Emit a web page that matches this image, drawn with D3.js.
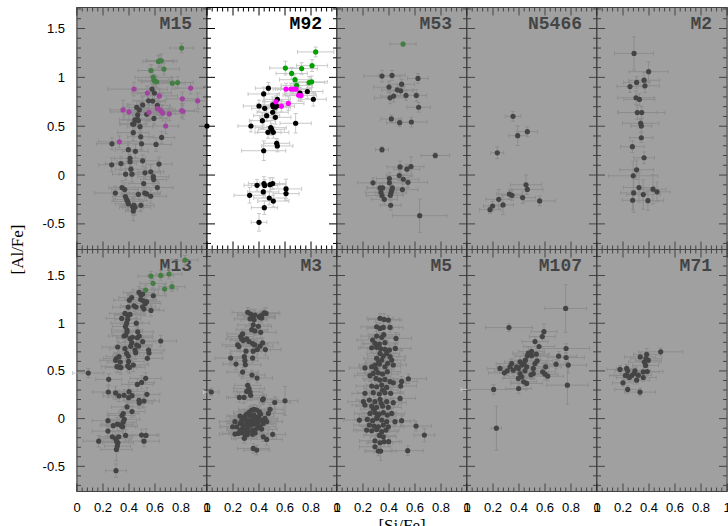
<!DOCTYPE html>
<html>
<head>
<meta charset="utf-8">
<script src="https://cdn.jsdelivr.net/npm/d3@7"></script>
<style>
  html, body { margin: 0; padding: 0; background: #fff; }
  svg { display: block; }
  .tick-label { font-family: "Liberation Sans", Arial, sans-serif; font-size: 13px; fill: #000; }
  .axis-title { font-family: "Liberation Serif", "Times New Roman", serif; font-size: 17px; fill: #000; }
  .panel-title { font-family: "Liberation Mono", "Courier New", monospace; font-weight: bold; font-size: 18px; fill: #000; }
</style>
</head>
<body>
<div id="chart"></div>
<script>
// [Si/Fe] vs [Al/Fe] for ten globular clusters, one panel each.
// every point is [x, y, xerr, yerr]

const m15Black = [[.577,.879,.12,.06],[.595,.84,.13,.07],[.551,.76,.12,.07],[.582,.757,.1,.06],[.618,.713,.1,.07],[.505,.718,.12,.08],[.459,.693,.1,.07],[.479,.667,.12,.08],[.467,.616,.1,.1],[.536,.622,.1,.07],[.592,.58,.1,.06],[.446,.564,.12,.1],[.464,.571,.1,.08],[.472,.557,.08,.06],[.428,.522,.1,.12],[.438,.522,.1,.08],[.485,.495,.1,.07],[.433,.434,.12,.08],[.49,.392,.1,.06],[.651,.385,.1,.06],[.269,.32,.12,.06],[.395,.26,.1,.08],[.497,.32,.1,.06],[.608,.313,.12,.07],[.449,.243,.1,.07],[.408,.171,.12,.08],[.408,.137,.1,.07],[.505,.146,.12,.06],[.267,.105,.1,.07],[.338,.118,.12,.07],[.631,.112,.1,.07],[.415,.06,.12,.07],[.423,.009,.1,.08],[.374,.009,.1,.06],[.523,.023,.12,.06],[.567,.034,.1,.07],[.587,-.017,.12,.06],[.59,-.046,.1,.06],[.513,-.087,.12,.07],[.618,-.128,.12,.07],[.346,-.128,.1,.07],[.367,-.149,.1,.07],[.295,-.184,.16,.07],[.521,-.184,.12,.08],[.472,-.197,.12,.07],[.536,-.193,.1,.07],[.372,-.22,.1,.08],[.382,-.25,.1,.07],[.39,-.27,.12,.08],[.395,-.295,.1,.07],[.438,-.31,.1,.08],[.446,-.33,.12,.08],[.428,-.32,.08,.08],[.492,-.31,.1,.06],[.567,-.217,.12,.07],[.433,-.368,.06,.1],[.433,-.334,.08,.08]];
const m15Green = [[.805,1.30,.09,.05],[.626,1.163,.12,.06],[.638,1.17,.1,.06],[.649,1.17,.12,.07],[.569,1.07,.1,.06],[.669,1.085,.12,.06],[.587,1.0,.14,.07],[.592,.97,.12,.06],[.6,.96,.1,.06],[.613,.955,.12,.06],[.733,.94,.1,.06],[.774,.947,.12,.06]];
const m15Magenta = [[.438,.88,.2,.07],[.541,.84,.12,.07],[.633,.81,.14,.07],[.874,.89,.12,.06],[.81,.78,.12,.07],[.928,.76,.12,.08],[.354,.667,.1,.1],[.4,.646,.14,.08],[.554,.642,.14,.08],[.618,.68,.12,.07],[.638,.667,.12,.08],[.651,.65,.14,.07],[.659,.633,.1,.08],[.71,.626,.12,.07],[.805,.66,.1,.07],[.815,.653,.12,.08],[.682,.502,.1,.08],[.326,.34,.16,.06]];

const m92Black = [[.472,.889,.1,.06],[.436,.83,.12,.07],[.541,.775,.1,.06],[.715,.838,.12,.06],[.772,.855,.12,.07],[.818,.776,.1,.07],[.4,.707,.12,.06],[.444,.683,.1,.07],[.505,.718,.12,.08],[.51,.7,.1,.07],[.523,.694,.12,.06],[.536,.707,.1,.08],[.505,.643,.12,.07],[.459,.608,.1,.06],[.526,.591,.12,.07],[.426,.557,.1,.08],[.338,.502,.1,.06],[.49,.485,.12,.07],[.497,.468,.1,.06],[.682,.53,.12,.1],[.469,.437,.1,.06],[.51,.437,.12,.06],[.536,.325,.1,.05],[.541,.298,.12,.06],[.436,.249,.17,.1],[.385,-.105,.1,.06],[.438,-.087,.12,.07],[.444,-.107,.1,.06],[.485,-.098,.12,.07],[.505,-.087,.1,.06],[.433,-.173,.12,.06],[.328,-.207,.12,.08],[.479,-.235,.12,.07],[.51,-.266,.12,.06],[.608,-.142,.12,.1],[.608,-.19,.1,.07],[.441,-.334,.1,.07],[.4,-.484,.06,.09],[0,.502,0,0]];
const m92Green = [[.836,1.26,.14,.05],[.603,1.095,.12,.07],[.651,1.04,.12,.06],[.728,1.09,.12,.06],[.808,1.12,.12,.06],[.677,.976,.12,.06],[.69,.918,.12,.06],[.785,.947,.12,.06],[.805,.954,.12,.06]];
const m92Magenta = [[.608,.88,.1,.06],[.646,.88,.12,.06],[.664,.88,.12,.06],[.685,.88,.12,.06],[.705,.817,.12,.06],[.723,.814,.12,.06],[.531,.75,.1,.06],[.626,.733,.12,.07],[.572,.705,.1,.06]];

const m53Black = [[.346,1.013,.14,.06],[.423,1.02,.1,.05],[.623,.989,.08,.05],[.497,.93,.1,.05],[.4,.9,.12,.06],[.464,.872,.12,.06],[.49,.862,.1,.05],[.531,.815,.1,.05],[.61,.815,.08,.06],[.408,.79,.12,.06],[.436,.808,.1,.06],[.628,.694,.09,.05],[.418,.574,.08,.04],[.482,.536,.1,.04],[.572,.543,.12,.05],[.346,.26,.05,.03],[.756,.2,.11,.03],[.485,.083,.1,.06],[.569,.087,.1,.1],[.538,.06,.1,.05],[.479,-.005,.1,.05],[.403,-.036,.1,.06],[.51,-.043,.12,.05],[.546,-.074,.15,.05],[.277,-.08,.12,.05],[.403,-.08,.1,.06],[.331,-.132,.1,.05],[.351,-.132,.12,.06],[.426,-.132,.12,.06],[.421,-.156,.1,.05],[.415,-.183,.12,.05],[.41,-.207,.1,.05],[.338,-.176,.12,.05],[.346,-.21,.12,.05],[.364,-.248,.1,.05],[.503,-.149,.12,.06],[.413,-.309,.08,.05],[.636,-.416,.21,.17]];
const m53Green = [[.508,1.341,.1,.02]];

const n5466Black = [[.354,.601,.06,.05],[.39,.403,.07,.1],[.464,.444,.08,.05],[.233,.228,.05,.06],[.454,-.099,.12,.1],[.464,-.147,.12,.05],[.326,-.195,.1,.05],[.346,-.208,.08,.05],[.428,-.231,.1,.06],[.559,-.265,.12,.05],[.244,-.248,.1,.1],[.277,-.306,.08,.1],[.197,-.317,.07,.05],[.177,-.354,.08,.04]];

const m2Black = [[.285,1.245,.15,.17],[.397,1.058,.15,.1],[.305,.948,.1,.06],[.362,.971,.12,.08],[.369,.913,.11,.07],[.254,.906,.1,.06],[.3,.791,.14,.07],[.326,.774,.12,.06],[.31,.64,.15,.07],[.344,.64,.18,.06],[.336,.53,.14,.05],[.341,.503,.08,.06],[.341,.382,.09,.05],[.272,.29,.09,.06],[.362,.177,.08,.06],[.305,.054,.13,.1],[.279,-.008,.19,.15],[.323,-.128,.12,.15],[.431,-.145,.1,.15],[.462,-.172,.1,.1],[.282,-.183,.1,.2],[.356,-.2,.13,.15],[.274,-.258,.08,.1],[.392,-.262,.12,.1]];

const m13Black = [[.477,1.323,.12,.06],[.492,1.295,.1,.07],[.505,1.306,.12,.06],[.587,1.288,.1,.06],[.403,1.242,.12,.07],[.421,1.27,.1,.06],[.49,1.249,.12,.06],[.51,1.235,.1,.07],[.526,1.207,.12,.06],[.536,1.224,.1,.06],[.394,1.169,.12,.07],[.438,1.183,.1,.06],[.454,1.169,.12,.06],[.505,1.172,.1,.06],[.515,1.148,.12,.07],[.569,1.134,.1,.06],[.369,1.103,.12,.07],[.39,1.085,.1,.06],[.408,1.092,.12,.06],[.344,1.05,.12,.06],[.39,1.043,.1,.07],[.382,1.001,.12,.06],[.372,.966,.1,.07],[.385,.928,.12,.06],[.456,1.001,.1,.06],[.385,.907,.12,.07],[.374,.873,.1,.06],[.467,.91,.12,.06],[.479,.866,.1,.07],[.464,.848,.12,.06],[.408,.838,.1,.06],[.426,.852,.12,.07],[.362,.866,.12,.06],[.421,.796,.1,.06],[.413,.758,.12,.07],[.505,.807,.1,.06],[.644,.814,.12,.06],[.459,.772,.12,.06],[.474,.761,.1,.07],[.313,.751,.12,.06],[.446,.719,.1,.06],[.369,.733,.12,.07],[.382,.684,.1,.06],[.551,.719,.12,.06],[.554,.688,.1,.07],[.541,.632,.12,.06],[.303,.629,.1,.06],[.297,.611,.12,.07],[.323,.649,.1,.06],[.395,.656,.12,.06],[.451,.691,.1,.07],[.397,.6,.12,.06],[.333,.593,.1,.06],[.433,.562,.12,.07],[.308,.545,.12,.06],[.321,.541,.1,.06],[.338,.535,.12,.07],[.39,.552,.1,.06],[.403,.535,.12,.06],[.087,.478,.12,.05],[.244,.412,.1,.06],[.528,.422,.12,.06],[.497,.38,.1,.07],[.464,.359,.12,.06],[.241,.279,.12,.06],[.297,.269,.1,.07],[.323,.238,.12,.06],[.362,.245,.1,.06],[.4,.283,.12,.07],[.423,.241,.1,.06],[.397,.22,.12,.06],[.538,.255,.1,.07],[.477,.192,.12,.06],[.479,.164,.1,.06],[.515,.185,.12,.07],[.385,.123,.12,.06],[.423,.074,.1,.06],[.356,.053,.12,.07],[.346,.033,.1,.06],[.364,-.007,.12,.06],[.356,-.036,.1,.07],[.238,-.022,.12,.06],[.279,-.074,.1,.06],[.31,-.057,.12,.07],[.331,-.064,.1,.06],[.344,-.078,.12,.06],[.351,-.085,.1,.07],[.238,-.131,.12,.06],[.272,-.19,.1,.06],[.297,-.211,.12,.07],[.321,-.19,.1,.06],[.374,-.176,.12,.06],[.305,-.239,.1,.07],[.315,-.253,.12,.06],[.31,-.288,.1,.06],[.303,-.323,.12,.12],[.167,-.236,.12,.06],[.497,-.172,.12,.06],[.531,-.176,.1,.07],[.515,-.236,.12,.06],[.3,-.546,.08,.07]];
const m13Green = [[.831,1.662,.1,.05],[.569,1.494,.1,.05],[.644,1.501,.1,.05],[.708,1.515,.1,.05],[.585,1.418,.1,.05],[.731,1.383,.1,.05],[.528,1.348,.1,.05],[.674,1.358,.1,.05]];

const m3Black = [[.313,1.114,.12,.05],[.336,1.096,.1,.05],[.356,1.079,.12,.05],[.369,1.086,.1,.06],[.403,1.069,.12,.05],[.421,1.086,.1,.05],[.441,1.11,.12,.05],[.454,1.103,.1,.06],[.331,1.046,.12,.05],[.362,1.036,.1,.05],[.408,1.064,.12,.05],[.421,1.054,.1,.05],[.356,.982,.12,.06],[.395,.968,.1,.05],[.344,.933,.12,.05],[.369,.919,.1,.05],[.413,.905,.12,.06],[.274,.888,.12,.05],[.259,.86,.1,.05],[.267,.836,.12,.05],[.279,.818,.1,.06],[.305,.836,.12,.05],[.323,.808,.1,.05],[.351,.787,.12,.05],[.367,.773,.1,.06],[.236,.773,.12,.05],[.246,.756,.1,.05],[.428,.794,.12,.05],[.387,.724,.1,.05],[.449,.724,.12,.06],[.408,.759,.1,.05],[.3,.707,.12,.05],[.356,.707,.1,.05],[.182,.635,.12,.05],[.287,.649,.1,.06],[.351,.635,.12,.05],[.292,.607,.1,.05],[.295,.565,.12,.05],[.223,.572,.1,.06],[.274,.488,.12,.05],[.346,.457,.1,.05],[.385,.425,.12,.05],[.313,.349,.1,.05],[.323,.314,.12,.06],[.331,.279,.1,.05],[.336,.244,.12,.05],[.305,.285,.1,.05],[.285,.222,.12,.06],[.249,.222,.1,.05],[.033,.279,.06,.04],[.428,.197,.12,.05],[.433,.207,.1,.05],[.521,.169,.12,.06],[.6,.187,.1,.15],[.228,-.085,.12,.05],[.254,-.05,.1,.05],[.267,-.022,.12,.06],[.279,.002,.1,.05],[.292,.027,.12,.05],[.305,.048,.1,.05],[.326,.069,.12,.06],[.344,.09,.1,.05],[.362,.097,.12,.05],[.382,.09,.1,.05],[.403,.072,.12,.06],[.413,.048,.1,.05],[.395,.02,.12,.05],[.377,.002,.1,.05],[.356,-.008,.12,.06],[.331,-.022,.1,.05],[.31,-.043,.12,.05],[.292,-.067,.1,.05],[.274,-.102,.12,.06],[.254,-.12,.1,.05],[.318,-.085,.12,.05],[.344,-.067,.1,.05],[.369,-.05,.12,.06],[.395,-.032,.1,.05],[.421,-.015,.12,.05],[.446,.002,.1,.05],[.472,.055,.12,.06],[.485,.097,.1,.05],[.241,-.155,.12,.05],[.267,-.148,.1,.05],[.292,-.162,.12,.06],[.318,-.137,.1,.05],[.351,-.12,.12,.05],[.382,-.102,.1,.05],[.408,-.085,.12,.06],[.433,-.05,.1,.05],[.459,-.032,.12,.05],[.197,-.085,.1,.05],[.215,-.162,.12,.06],[.287,-.207,.1,.05],[.351,-.165,.12,.05],[.433,-.19,.1,.05],[.459,-.218,.12,.06],[.505,-.165,.1,.05],[.356,-.312,.12,.05],[.382,-.33,.1,.05],[.215,-.032,.12,.05],[.254,.027,.1,.05],[.3,-.01,.1,.05],[.33,.03,.12,.05],[.36,.04,.1,.05],[.3,-.12,.12,.05],[.34,-.04,.1,.05],[.39,-.06,.12,.05],[.27,-.05,.1,.05],[.42,-.11,.12,.05],[.37,-.15,.1,.05],[.31,-.17,.12,.05]];

const m5Black = [[.331,1.051,.1,.05],[.362,1.04,.12,.06],[.395,1.033,.1,.05],[.305,.963,.12,.05],[.331,.946,.1,.05],[.356,.956,.12,.06],[.408,.956,.1,.05],[.305,.865,.12,.05],[.344,.852,.1,.05],[.274,.824,.12,.06],[.292,.789,.1,.05],[.326,.782,.12,.05],[.369,.796,.1,.05],[.454,.841,.12,.06],[.267,.743,.1,.05],[.305,.747,.12,.05],[.336,.733,.1,.05],[.369,.726,.12,.06],[.403,.719,.1,.05],[.449,.736,.12,.05],[.331,.684,.1,.05],[.356,.656,.12,.06],[.382,.684,.1,.05],[.408,.649,.12,.05],[.305,.632,.1,.05],[.344,.614,.12,.06],[.421,.614,.1,.05],[.215,.531,.12,.05],[.267,.544,.1,.05],[.292,.562,.12,.06],[.326,.572,.1,.05],[.369,.544,.12,.05],[.433,.562,.1,.05],[.279,.474,.12,.06],[.318,.481,.1,.05],[.351,.467,.12,.05],[.387,.492,.1,.05],[.254,.45,.12,.06],[.3,.421,.1,.05],[.331,.404,.12,.05],[.369,.411,.1,.05],[.408,.387,.12,.06],[.433,.376,.1,.05],[.497,.39,.12,.05],[.549,.418,.14,.05],[.267,.341,.12,.06],[.305,.334,.1,.05],[.344,.352,.12,.05],[.382,.327,.1,.05],[.49,.341,.12,.06],[.215,.265,.1,.05],[.279,.272,.12,.05],[.326,.258,.1,.05],[.369,.272,.12,.06],[.413,.265,.1,.05],[.203,.178,.12,.05],[.249,.195,.1,.05],[.292,.178,.12,.06],[.331,.202,.1,.05],[.382,.178,.12,.05],[.433,.167,.1,.05],[.485,.212,.12,.06],[.215,.143,.1,.05],[.267,.132,.12,.05],[.305,.118,.1,.05],[.351,.132,.12,.06],[.395,.118,.1,.05],[.254,.055,.12,.05],[.292,.065,.1,.05],[.326,.048,.12,.06],[.356,.062,.1,.05],[.387,.037,.12,.05],[.421,.055,.1,.05],[.172,-.015,.12,.06],[.233,-.008,.1,.05],[.274,-.022,.12,.05],[.305,.002,.1,.05],[.344,-.015,.12,.06],[.382,-.032,.1,.05],[.446,-.032,.12,.05],[.497,-.022,.1,.05],[.249,-.067,.12,.06],[.285,-.078,.1,.05],[.318,-.085,.12,.05],[.356,-.067,.1,.05],[.395,-.085,.12,.06],[.228,-.12,.1,.05],[.267,-.127,.12,.05],[.305,-.113,.1,.05],[.344,-.137,.12,.06],[.377,-.12,.1,.05],[.608,-.078,.12,.05],[.672,-.172,.08,.07],[.326,-.176,.12,.05],[.356,-.19,.1,.05],[.292,-.232,.12,.06],[.331,-.253,.1,.05],[.362,-.242,.12,.05],[.397,-.242,.1,.05],[.292,-.295,.12,.06],[.318,-.34,.1,.05],[.336,-.34,.12,.1],[.544,-.336,.12,.05],[.32,.59,.1,.05],[.35,.3,.12,.05],[.28,.1,.1,.05],[.36,.88,.12,.05],[.34,.16,.1,.05],[.3,.52,.12,.05],[.39,.58,.1,.05],[.31,.02,.12,.05]];

const m107Black = [[.759,1.155,.16,.25],[.323,.954,.18,.04],[.592,.912,.1,.08],[.579,.86,.1,.05],[.523,.808,.1,.05],[.554,.756,.12,.05],[.497,.704,.1,.05],[.472,.686,.12,.06],[.464,.658,.1,.05],[.497,.658,.12,.05],[.533,.676,.1,.06],[.449,.613,.12,.05],[.438,.578,.1,.05],[.408,.596,.12,.06],[.421,.561,.1,.05],[.395,.526,.12,.05],[.382,.543,.1,.06],[.344,.578,.12,.05],[.331,.543,.1,.05],[.356,.508,.12,.06],[.31,.501,.1,.05],[.287,.48,.12,.05],[.254,.526,.1,.05],[.459,.543,.12,.06],[.446,.501,.1,.05],[.408,.473,.12,.05],[.421,.438,.1,.06],[.395,.421,.12,.05],[.436,.386,.1,.05],[.459,.369,.12,.06],[.397,.316,.1,.05],[.51,.526,.12,.05],[.523,.578,.1,.06],[.54,.606,.12,.05],[.492,.459,.1,.05],[.51,.473,.12,.06],[.582,.491,.1,.05],[.605,.543,.12,.05],[.6,.466,.1,.06],[.621,.445,.12,.05],[.685,.571,.1,.05],[.705,.655,.14,.05],[.762,.735,.18,.05],[.762,.641,.14,.05],[.779,.561,.14,.08],[.772,.351,.16,.2],[.205,.306,.25,.05],[.226,-.1,.04,.23]];

const m71Black = [[.49,.7,.17,.04],[.333,.647,.12,.05],[.382,.674,.1,.06],[.377,.628,.12,.05],[.395,.611,.1,.05],[.364,.593,.12,.05],[.374,.558,.1,.05],[.177,.516,.1,.04],[.228,.526,.08,.04],[.236,.501,.1,.04],[.292,.501,.12,.04],[.285,.473,.1,.04],[.267,.452,.12,.04],[.228,.455,.1,.04],[.249,.431,.1,.04],[.218,.452,.12,.04],[.356,.49,.12,.04],[.387,.494,.12,.04],[.318,.455,.1,.04],[.356,.431,.1,.04],[.305,.403,.1,.04],[.2,.375,.08,.04],[.236,.306,.1,.04],[.331,.278,.12,.04]];

const panelNames = ['M15', 'M92', 'M53', 'N5466', 'M2', 'M13', 'M3', 'M5', 'M107', 'M71'];
const panelBlack = [m15Black, m92Black, m53Black, n5466Black, m2Black, m13Black, m3Black, m5Black, m107Black, m71Black];
const panelGreen = [m15Green, m92Green, m53Green, [], [], m13Green, [], [], [], []];
const panelMagenta = [m15Magenta, m92Magenta, [], [], [], [], [], [], [], []];
const whitePanels = ['M92'];

const xTickLabels = ['0', '0.2', '0.4', '0.6', '0.8', '1'];
const yTickLabels = ['1.5', '1', '0.5', '0', '-0.5'];

const W = 728, H = 526;
const LEFT = 77, PW = 130, PH = 242;
const ROW_TOP = [7.5, 249.5];
// the two rows come out with slightly different y ranges in the source figure
const Y_DOMAINS = [[-0.762, 1.715], [-0.764, 1.773]];

const svg = d3.select('#chart').append('svg')
  .attr('width', W).attr('height', H);

const x = d3.scaleLinear().domain([0, 1]).range([0, PW]);

panelNames.forEach((name, i) => {
  const row = Math.floor(i / 5), col = i % 5;
  const y = d3.scaleLinear().domain(Y_DOMAINS[row]).range([PH, 0]);
  const g = svg.append('g')
    .attr('transform', `translate(${LEFT + col * PW},${ROW_TOP[row]})`);

  g.append('rect').attr('width', PW).attr('height', PH).attr('fill', '#fff');

  g.append('text').attr('class', 'panel-title')
    .attr('x', PW - 15).attr('y', 21).attr('text-anchor', 'end')
    .text(name);

  // inward ticks on all four sides
  const ticks = g.append('g').attr('stroke', '#000').attr('stroke-width', 1);
  d3.range(0, 26).forEach(k => {
    const v = k * 0.04, major = k % 5 === 0, len = major ? 8 : 4;
    const px = x(v);
    ticks.append('line').attr('x1', px).attr('x2', px).attr('y1', PH).attr('y2', PH - len);
    ticks.append('line').attr('x1', px).attr('x2', px).attr('y1', 0).attr('y2', len);
  });
  d3.range(-7, 18).forEach(k => {
    const v = k / 10;
    if (v < Y_DOMAINS[row][0] || v > Y_DOMAINS[row][1]) return;
    const major = k % 5 === 0, len = major ? 8 : 4;
    const py = y(v);
    ticks.append('line').attr('x1', 0).attr('x2', len).attr('y1', py).attr('y2', py);
    ticks.append('line').attr('x1', PW).attr('x2', PW - len).attr('y1', py).attr('y2', py);
  });
  g.append('rect').attr('width', PW).attr('height', PH)
    .attr('fill', 'none').attr('stroke', '#000').attr('stroke-width', 1);

  const series = [
    { pts: panelBlack[i], color: '#000' },
    { pts: panelGreen[i], color: '#00a000' },
    { pts: panelMagenta[i], color: '#ff00ff' }
  ];
  const all = series.flatMap(s => s.pts);

  // error bars first, then points on top
  const eb = g.append('g').attr('stroke', '#c8c8c8').attr('stroke-width', 1).attr('fill', 'none');
  all.filter(d => d[2] > 0 || d[3] > 0).forEach(d => {
    const cx = x(d[0]), cy = y(d[1]);
    const x0 = x(d[0] - d[2]), x1 = x(d[0] + d[2]);
    const y0 = y(d[1] - d[3]), y1 = y(d[1] + d[3]);
    eb.append('path').attr('d',
      `M${x0},${cy}H${x1}M${x0},${cy - 2}V${cy + 2}M${x1},${cy - 2}V${cy + 2}` +
      `M${cx},${y0}V${y1}M${cx - 2},${y0}H${cx + 2}M${cx - 2},${y1}H${cx + 2}`);
  });

  series.forEach(s => {
    g.append('g').selectAll('circle').data(s.pts).join('circle')
      .attr('cx', d => x(d[0])).attr('cy', d => y(d[1]))
      .attr('r', 2.6).attr('fill', s.color);
  });

  if (!whitePanels.includes(name)) {
    g.append('rect').attr('x', -0.5).attr('y', -0.5)
      .attr('width', PW + 1).attr('height', PH + 1)
      .attr('fill', 'rgb(106,106,106)').attr('fill-opacity', 0.64);
  }

  if (col === 0) {
    yTickLabels.forEach(t => {
      g.append('text').attr('class', 'tick-label')
        .attr('x', -12).attr('y', y(+t)).attr('dy', '0.35em')
        .attr('text-anchor', 'end').text(t);
    });
  }
  if (row === 1) {
    xTickLabels.forEach(t => {
      g.append('text').attr('class', 'tick-label')
        .attr('x', x(+t)).attr('y', PH + 20)
        .attr('text-anchor', 'middle').text(t);
    });
  }
});

svg.append('text').attr('class', 'axis-title')
  .attr('transform', `translate(23,${ROW_TOP[1]}) rotate(-90)`)
  .attr('text-anchor', 'middle').text('[Al/Fe]');

svg.append('text').attr('class', 'axis-title')
  .attr('x', LEFT + 2.5 * PW).attr('y', 531)
  .attr('text-anchor', 'middle').text('[Si/Fe]');
</script>
</body>
</html>
